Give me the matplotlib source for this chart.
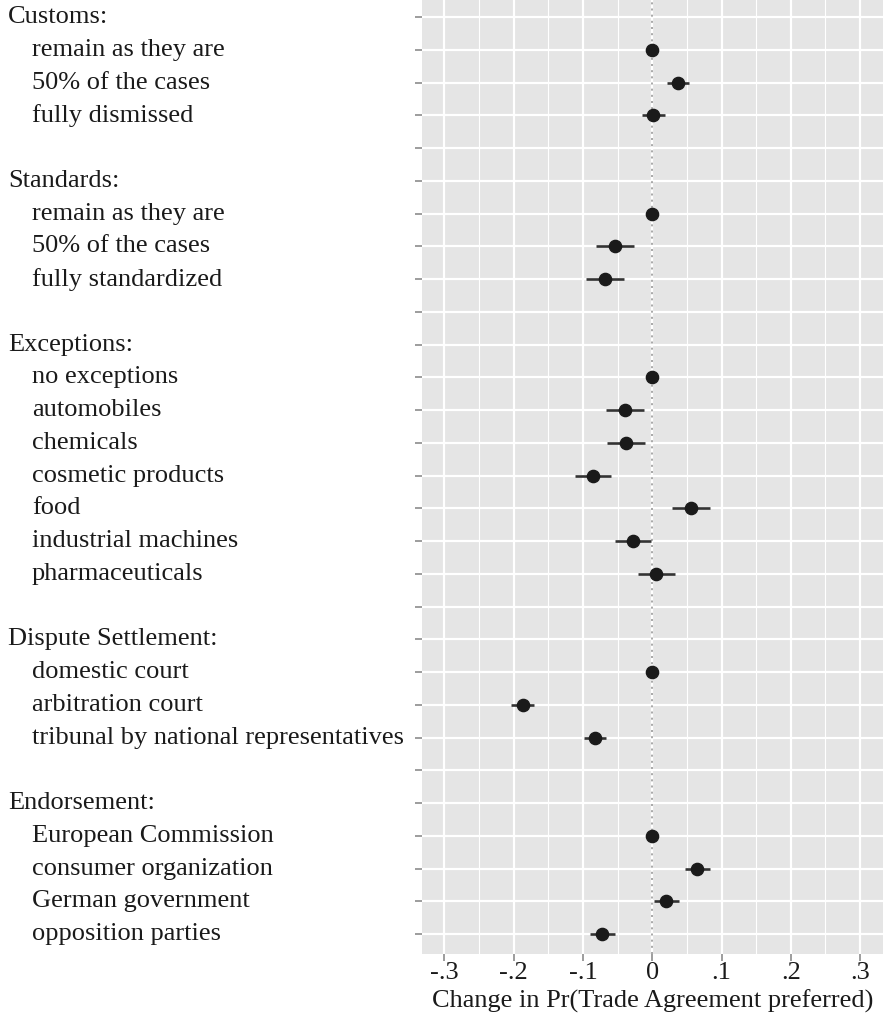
import matplotlib
matplotlib.use("Agg")
import matplotlib.pyplot as plt
import matplotlib.transforms as mtransforms
from matplotlib.ticker import MultipleLocator

# Rows from top to bottom; empty strings are spacer rows
labels = [
    "Customs:", "remain as they are", "50% of the cases", "fully dismissed", "",
    "Standards:", "remain as they are", "50% of the cases", "fully standardized", "",
    "Exceptions:", "no exceptions", "automobiles", "chemicals", "cosmetic products",
    "food", "industrial machines", "pharmaceuticals", "",
    "Dispute Settlement:", "domestic court", "arbitration court",
    "tribunal by national representatives", "",
    "Endorsement:", "European Commission", "consumer organization",
    "German government", "opposition parties",
]
is_header = [
    True, False, False, False, None,
    True, False, False, False, None,
    True, False, False, False, False, False, False, False, None,
    True, False, False, False, None,
    True, False, False, False, False,
]

estimate = [
    None, 0.0, 0.037, 0.001, None,
    None, 0.0, -0.053, -0.068, None,
    None, 0.0, -0.039, -0.038, -0.086, 0.056, -0.027, 0.006, None,
    None, 0.0, -0.187, -0.083, None,
    None, 0.0, 0.065, 0.020, -0.072,
]
ci_low = [
    None, 0.0, 0.022, -0.015, None,
    None, 0.0, -0.081, -0.095, None,
    None, 0.0, -0.066, -0.065, -0.112, 0.029, -0.053, -0.021, None,
    None, 0.0, -0.204, -0.098, None,
    None, 0.0, 0.047, 0.002, -0.090,
]
ci_high = [
    None, 0.0, 0.053, 0.018, None,
    None, 0.0, -0.026, -0.040, None,
    None, 0.0, -0.012, -0.011, -0.060, 0.083, -0.001, 0.033, None,
    None, 0.0, -0.170, -0.066, None,
    None, 0.0, 0.084, 0.038, -0.053,
]

x_ticks = [-0.3, -0.2, -0.1, 0.0, 0.1, 0.2, 0.3]
x_tick_labels = ["-.3", "-.2", "-.1", "0", ".1", ".2", ".3"]

plt.rcParams["font.family"] = ["Liberation Serif", "DejaVu Serif"]
FS = 19

fig = plt.figure(figsize=(8.83, 10.24), dpi=100)
ax = fig.add_axes([0.478, 0.0687, 0.522, 0.9338])
ax.set_facecolor("#e5e5e5")

n = len(labels)
rows = list(range(1, n + 1))

ax.set_xlim(-0.332, 0.333)
ax.set_ylim(n + 0.6, 0.4)

ax.set_xticks(x_ticks)
ax.set_xticklabels(x_tick_labels, fontsize=FS, color="#1a1a1a")
ax.xaxis.set_minor_locator(MultipleLocator(0.05))
ax.set_yticks(rows)
ax.set_yticklabels([])
ax.tick_params(axis="both", which="major", length=5, width=1.2, color="#8c8c8c")
ax.tick_params(axis="x", which="minor", length=0)
ax.tick_params(axis="x", pad=1)

ax.grid(True, which="major", color="white", linewidth=1.6, zorder=0)
ax.grid(True, which="minor", axis="x", color="white", linewidth=0.8, zorder=0)
ax.set_axisbelow(True)
for spine in ax.spines.values():
    spine.set_visible(False)

ax.axvline(0, color="#9a9a9a", linestyle=(0, (1.2, 2.5)), linewidth=1.2, zorder=1)

for y, est, lo, hi in zip(rows, estimate, ci_low, ci_high):
    if est is None:
        continue
    ax.plot([lo, hi], [y, y], color="#333333", linewidth=1.9, zorder=3,
            solid_capstyle="butt")
    ax.plot(est, y, "o", color="#1a1a1a", markersize=8.8, zorder=4)

# left-aligned row labels, headers flush and levels indented
trans = mtransforms.blended_transform_factory(fig.transFigure, ax.transData)
for y, text, head in zip(rows, labels, is_header):
    if not text:
        continue
    x = 8 / 883 if head else 32 / 883
    ax.text(x, y, text, transform=trans, ha="left", va="center",
            fontsize=FS, color="#1a1a1a", clip_on=False)

ax.set_xlabel("Change in Pr(Trade Agreement preferred)", fontsize=FS,
              color="#1a1a1a", labelpad=4)

fig.savefig("out.png", dpi=100, facecolor="white")
